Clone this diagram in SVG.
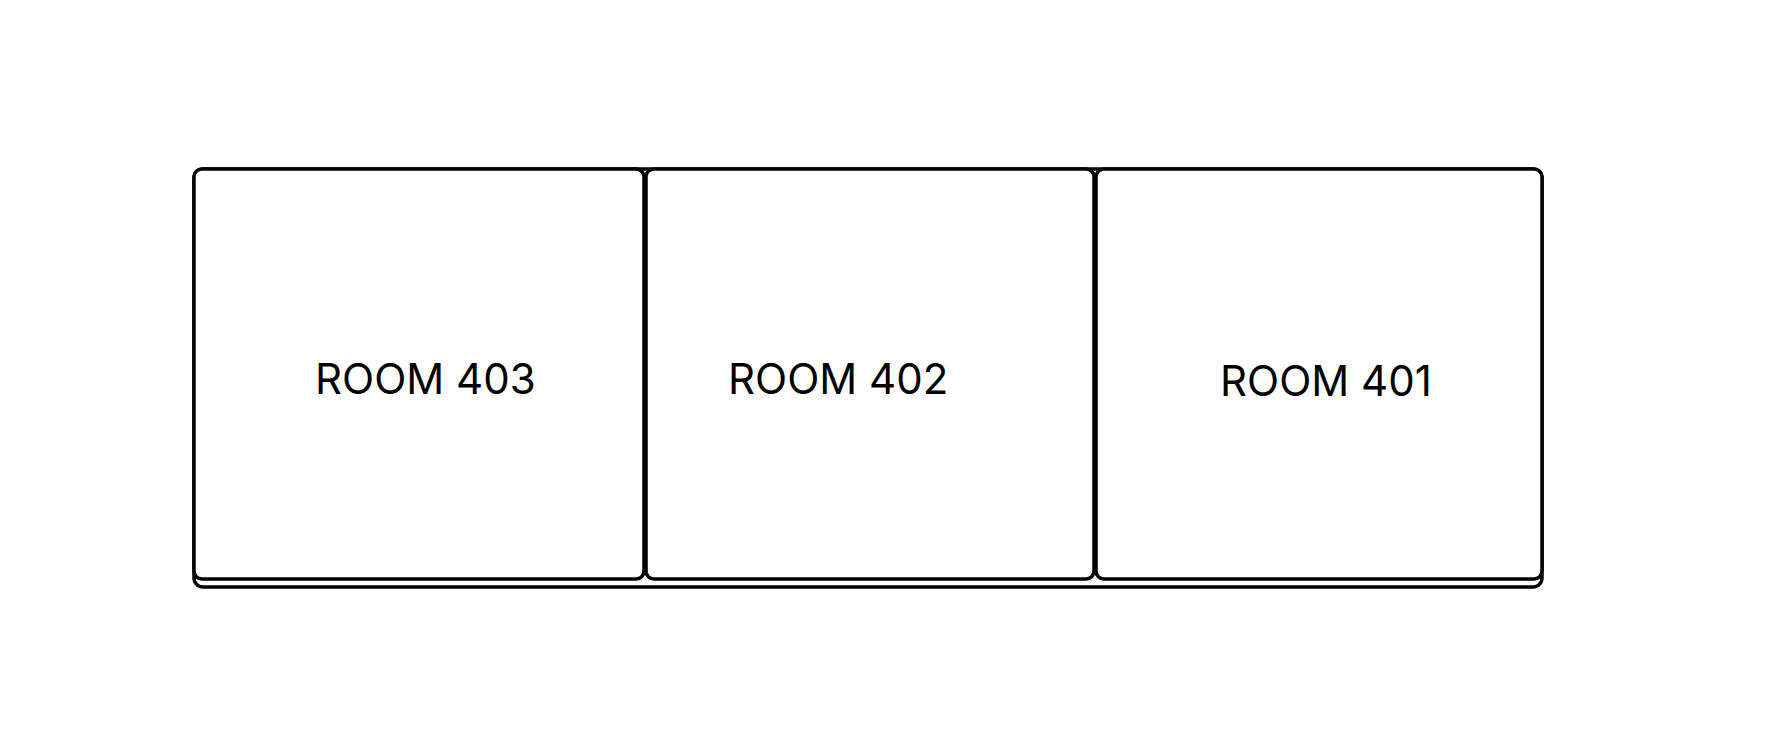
<svg xmlns="http://www.w3.org/2000/svg" width="1779" height="750" viewBox="0 0 1779 750">
<style>
.wall{fill:none;stroke:#000;stroke-width:3.5}
.room{fill:#fff;stroke:#000;stroke-width:3.5}
.lbl{font-family:Inter,"Liberation Sans",sans-serif;font-size:42px;fill:#000}
</style>
<rect width="1779" height="750" fill="#fff"/>
<g id="floor">
<rect class="wall" x="194" y="169" width="1348" height="418" rx="9"/>
</g>
<g id="room403">
<rect class="room" x="194" y="169" width="450" height="410" rx="8"/>
<text class="lbl" x="315" y="394">ROOM 403</text>
</g>
<g id="room402">
<rect class="room" x="646" y="169" width="448" height="410" rx="8"/>
<text class="lbl" x="728" y="394">ROOM 402</text>
</g>
<g id="room401">
<rect class="room" x="1096" y="169" width="446" height="410" rx="8"/>
<text class="lbl" x="1220" y="396">ROOM 401</text>
</g>
<g id="connectors"/>
</svg>
